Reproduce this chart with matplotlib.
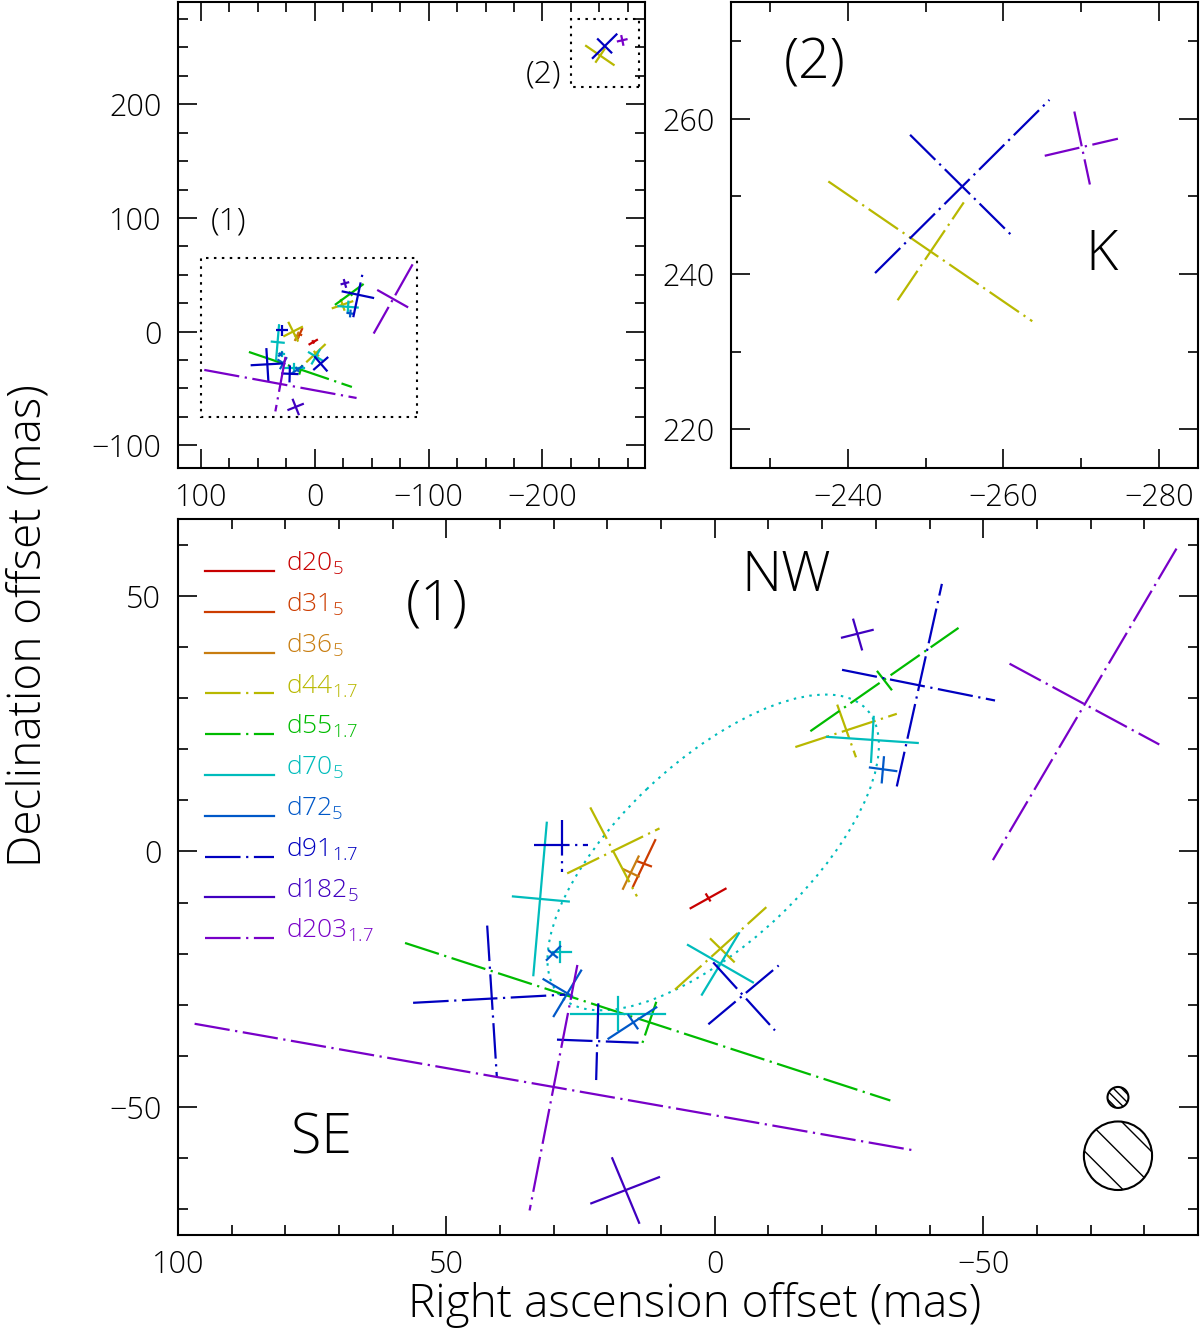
import numpy as np
import matplotlib
matplotlib.use("Agg")
import matplotlib.pyplot as plt
from matplotlib.patches import Ellipse, Rectangle
from matplotlib.ticker import MultipleLocator

# epochs, observing band (subscript) and colours
epochs = ["d20", "d31", "d36", "d44", "d55", "d70", "d72", "d91", "d182", "d203"]
bands = ["5", "5", "5", "1.7", "1.7", "5", "5", "1.7", "5", "1.7"]
colors = ["#c80000", "#cc3c00", "#c87d10", "#b8b800", "#00bb00",
          "#00bcbc", "#0058c8", "#0000c0", "#4000c0", "#7800c8"]

# each cross = two arms, arm = [ra_start, dec_start, ra_end, dec_end] (mas)
arms_d20 = [[4.5, -11.1, -2.0, -7.3], [1.6, -8.4, 0.9, -9.6]]
arms_d31 = [[15.2, -6.8, 11.1, 2.2], [14.5, -1.9, 11.9, -2.9]]
arms_d36 = [[17.1, -7.3, 14.2, -1.0], [17.0, -3.5, 14.2, -4.9]]
arms_d44 = [[27.5, -4.3, 10.3, 4.5], [23.2, 8.6, 14.5, -8.8],
            [7.4, -27.0, -9.6, -10.9], [0.9, -17.0, -3.7, -21.7],
            [-15.0, 20.4, -33.9, 26.9], [-22.8, 28.7, -26.3, 18.4],
            [-237.5, 251.9, -263.7, 233.9], [-246.4, 236.6, -254.9, 249.2]]
arms_d55 = [[57.7, -17.9, -32.7, -48.7], [10.9, -29.4, 13.6, -37.8],
            [-17.8, 23.5, -45.4, 43.7], [-30.2, 35.3, -33.0, 31.5]]
arms_d70 = [[31.3, 5.6, 33.8, -24.2], [37.6, -8.8, 27.2, -9.8],
            [5.0, -18.3, -7.1, -25.6], [2.4, -28.0, -4.5, -16.0],
            [30.1, -19.6, 26.8, -19.6], [28.8, -17.8, 28.8, -21.7],
            [26.8, -31.8, 9.3, -31.8], [18.0, -28.4, 18.0, -35.0],
            [-20.9, 22.4, -37.8, 21.2], [-29.6, 26.3, -29.1, 17.5]]
arms_d72 = [[31.3, -21.2, 28.8, -18.6], [30.9, -19.4, 29.4, -20.7],
            [31.9, -25.0, 26.6, -28.3], [24.9, -23.3, 30.0, -32.2],
            [19.8, -36.6, 10.9, -30.5], [16.1, -32.0, 14.4, -34.6],
            [-28.9, 16.4, -33.8, 15.7], [-31.5, 18.4, -31.1, 13.5]]
arms_d91 = [[33.7, 1.2, 23.6, 1.2], [28.5, 6.1, 28.5, -4.1],
            [1.2, -33.8, -11.9, -22.3], [0.3, -21.7, -11.2, -35.0],
            [56.2, -29.6, 27.9, -28.0], [42.4, -14.5, 40.6, -44.1],
            [29.4, -36.8, 14.2, -37.4], [21.7, -29.7, 22.1, -44.7],
            [-33.9, 12.7, -42.3, 52.3], [-23.7, 35.5, -52.2, 29.5],
            [-243.5, 240.1, -265.9, 262.4], [-248.0, 257.9, -261.1, 244.9]]
arms_d182 = [[23.0, -68.8, 10.4, -63.7], [19.1, -60.0, 14.1, -72.6],
             [-23.7, 41.8, -29.4, 43.3], [-25.8, 45.3, -27.4, 39.5]]
arms_d203 = [[96.9, -33.7, -36.8, -58.4], [25.6, -22.2, 34.5, -70.2],
             [-86.0, 59.2, -51.8, -1.7], [-54.9, 36.7, -82.8, 20.9],
             [-265.3, 255.2, -274.7, 257.4], [-269.1, 260.9, -271.1, 251.5]]
arms = [arms_d20, arms_d31, arms_d36, arms_d44, arms_d55,
        arms_d70, arms_d72, arms_d91, arms_d182, arms_d203]

# fitted ring (ellipse) for region (1)
ring_center = (0.3, -0.2)
ring_major = 80.0
ring_minor = 35.0
ring_pa = 135.0

# beams (5 GHz small, 1.7 GHz large)
beam_ra = [-75.1, -75.1]
beam_dec = [-48.1, -59.5]
beam_w = [3.9, 12.7]
beam_h = [4.1, 13.4]

# zoom regions (ra_left, ra_right, dec_bottom, dec_top)
region1 = [100, -90, -75, 65]
region2 = [-225, -285, 215, 275]

DASHDOT = (0, (16, 2.5, 1.0, 2.5))
LW = 1.6
plt.rcParams["font.family"] = ["Open Sans", "DejaVu Sans"]
plt.rcParams["font.weight"] = "light"
plt.rcParams["mathtext.fontset"] = "custom"
plt.rcParams["mathtext.rm"] = "Open Sans:light"
plt.rcParams["mathtext.it"] = "Open Sans:light"


def style(ax, major, minor):
    ax.xaxis.set_major_locator(MultipleLocator(major))
    ax.xaxis.set_minor_locator(MultipleLocator(minor))
    ax.yaxis.set_major_locator(MultipleLocator(major))
    ax.yaxis.set_minor_locator(MultipleLocator(minor))
    ax.tick_params(which="both", direction="in", top=True, right=True,
                   labelsize=22, width=1.2)
    ax.tick_params(which="major", length=14)
    ax.tick_params(which="minor", length=7)
    ax.tick_params(axis="x", pad=10)
    ax.tick_params(axis="y", pad=12)
    for s in ax.spines.values():
        s.set_linewidth(1.5)


def draw_crosses(ax):
    for i in range(len(epochs)):
        ls = DASHDOT if bands[i] == "1.7" else "-"
        for a in arms[i]:
            ax.plot([a[0], a[2]], [a[1], a[3]], color=colors[i], ls=ls, lw=LW)


fig = plt.figure(figsize=(12, 13.33), dpi=100)

# overview panel
ax1 = fig.add_axes([0.1483, 0.6489, 0.3892, 0.3496])
draw_crosses(ax1)
for r in [region1, region2]:
    ax1.add_patch(Rectangle((r[1], r[2]), r[0] - r[1], r[3] - r[2], fill=False,
                            ec="black", lw=1.5, ls=(0, (1.2, 2.6))))
ax1.set_xlim(120, -290)
ax1.set_ylim(-120, 290)
style(ax1, 100, 25)
ax1.text(0.1085, 0.528, "(1)", transform=ax1.transAxes, fontsize=23,
         ha="center", va="center")
ax1.text(0.782, 0.845, "(2)", transform=ax1.transAxes, fontsize=23,
         ha="center", va="center")

# region (2)
ax2 = fig.add_axes([0.6092, 0.6489, 0.3892, 0.3496])
draw_crosses(ax2)
ax2.set_xlim(region2[0], region2[1])
ax2.set_ylim(region2[2], region2[3])
style(ax2, 20, 10)
ax2.text(0.18, 0.8675, "(2)", transform=ax2.transAxes, fontsize=40,
         ha="center", va="center")
ax2.text(0.794, 0.4566, "K", transform=ax2.transAxes, fontsize=40,
         ha="center", va="center")

# region (1)
ax3 = fig.add_axes([0.1483, 0.0735, 0.85, 0.5372])
draw_crosses(ax3)
ax3.add_patch(Ellipse(ring_center, ring_major, ring_minor, angle=ring_pa,
                      fill=False, ec=colors[5], lw=1.5, ls=(0, (1.2, 2.6))))
for bx, by, bw, bh, h in zip(beam_ra, beam_dec, beam_w, beam_h,
                             ["\\\\\\\\", "\\"]):
    ax3.add_patch(Ellipse((bx, by), bw, bh, fill=False, ec="black", lw=1.5,
                          hatch=h))
ax3.set_xlim(region1[0], region1[1])
ax3.set_ylim(region1[2], region1[3])
style(ax3, 50, 10)

# legend drawn by hand
for i in range(len(epochs)):
    yp = 571 + 40.8 * i
    yf = (1235 - yp) / 716
    ls = DASHDOT if bands[i] == "1.7" else "-"
    ax3.plot([0.0265, 0.094], [yf, yf], transform=ax3.transAxes,
             color=colors[i], ls=ls, lw=LW)
    ax3.text(0.1055, yf, epochs[i] + "$_{" + bands[i] + "}$",
             transform=ax3.transAxes, color=colors[i], fontsize=19,
             ha="left", va="baseline")

ax3.text(0.254, 0.880, "(1)", transform=ax3.transAxes, fontsize=40,
         ha="center", va="center")
ax3.text(0.596, 0.920, "NW", transform=ax3.transAxes, fontsize=40,
         ha="center", va="center")
ax3.text(0.141, 0.134, "SE", transform=ax3.transAxes, fontsize=40,
         ha="center", va="center")

fig.text(0.579, 0.021, "Right ascension offset (mas)", fontsize=33,
         ha="center", va="center")
fig.text(0.0235, 0.531, "Declination offset (mas)", fontsize=33,
         ha="center", va="center", rotation=90)

fig.savefig("out.png", dpi=100)
